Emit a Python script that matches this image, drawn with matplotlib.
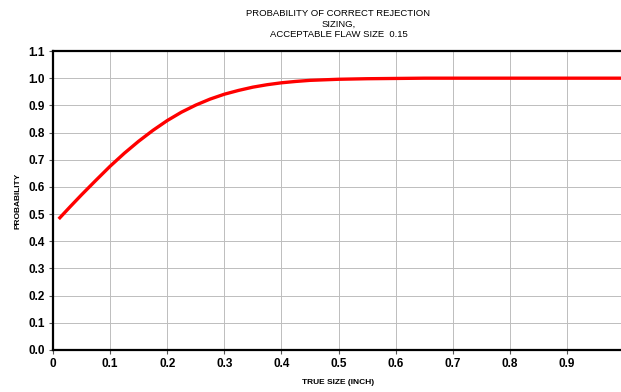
import matplotlib
matplotlib.use("Agg")
import matplotlib.pyplot as plt

plt.rcParams['font.family'] = ['Liberation Sans', 'DejaVu Sans']

true_size = [0.01, 0.03, 0.05, 0.075, 0.1, 0.125, 0.15, 0.175, 0.2, 0.225, 0.25,
             0.275, 0.3, 0.325, 0.35, 0.375, 0.4, 0.425, 0.45, 0.5, 0.55, 0.6, 0.65,
             0.7, 0.8, 0.9, 1.0]
probability = [0.482, 0.527, 0.571, 0.624, 0.676, 0.724, 0.768, 0.808, 0.844, 0.875, 0.901,
               0.923, 0.941, 0.955, 0.967, 0.976, 0.983, 0.988, 0.992, 0.996, 0.998, 0.999,
               1.0, 1.0, 1.0, 1.0, 1.0]
x_ticks = [0, 0.1, 0.2, 0.3, 0.4, 0.5, 0.6, 0.7, 0.8, 0.9, 1.0]
x_tick_labels = ['0', '0.1', '0.2', '0.3', '0.4', '0.5', '0.6', '0.7', '0.8', '0.9', '1']
y_ticks = [0.0, 0.1, 0.2, 0.3, 0.4, 0.5, 0.6, 0.7, 0.8, 0.9, 1.0, 1.1]
y_tick_labels = ['0.0', '0.1', '0.2', '0.3', '0.4', '0.5', '0.6', '0.7', '0.8', '0.9', '1.0', '1.1']

fig = plt.figure(figsize=(6.21, 3.92), dpi=100)
ax = fig.add_axes([53/621, 1 - 350/392, 571/621, 299/392])

ax.plot(true_size, probability, color='#ff0000', linewidth=2.4, solid_capstyle='butt')

ax.set_xlim(0, 1.0)
ax.set_ylim(0, 1.1)
ax.set_xticks(x_ticks)
ax.set_xticklabels(x_tick_labels, fontsize=8.5, fontweight='bold')
ax.set_yticks(y_ticks)
ax.set_yticklabels(y_tick_labels, fontsize=8.5, fontweight='bold')
ax.grid(True, color='#bdbdbd', linewidth=0.7)
ax.set_axisbelow(True)

for s in ['left', 'top', 'bottom']:
    ax.spines[s].set_linewidth(1.6)
    ax.spines[s].set_color('black')
ax.spines['right'].set_visible(False)
ax.tick_params(axis='both', direction='out', length=3, width=0.8, color='#555555', pad=3)

ax.set_title('PROBABILITY OF CORRECT REJECTION\nSIZING,\nACCEPTABLE FLAW SIZE  0.15',
             fontsize=6.8, linespacing=1.25, pad=10)
ax.set_xlabel('TRUE SIZE (INCH)', fontsize=6, fontweight='bold', labelpad=6)
ax.set_ylabel('PROBABILITY', fontsize=6, fontweight='bold', labelpad=5)

fig.savefig('out.png', dpi=100)
